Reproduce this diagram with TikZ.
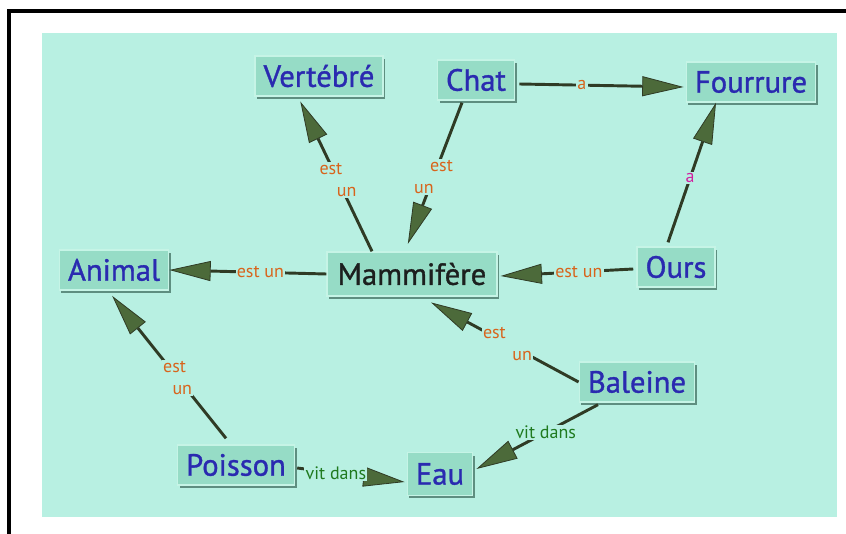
\documentclass[tikz,border=0pt]{standalone}
\usepackage{fontspec}
\setmainfont{PT Sans}
\newfontfamily\conceptfont[FakeBold=1.1]{PT Sans}
\usetikzlibrary{arrows.meta,shadows}

\definecolor{panel}{HTML}{B8F0E2}
\definecolor{boxfill}{HTML}{96DCC6}
\definecolor{boxshadow}{HTML}{5E8E80}
\definecolor{boxedge}{HTML}{C6F4E6}
\definecolor{nodeblue}{HTML}{2A2AB0}
\definecolor{nodedark}{HTML}{1C1F1E}
\definecolor{lblorange}{HTML}{D8641C}
\definecolor{lblmagenta}{HTML}{D020A0}
\definecolor{lblgreen}{HTML}{1F7A1F}
\definecolor{edgecol}{HTML}{2F3B25}
\definecolor{arrowfill}{HTML}{4C6A3A}

\tikzset{
  concept/.style={draw=boxedge, line width=1pt, fill=boxfill,
    drop shadow={shadow xshift=1.6pt, shadow yshift=-2.2pt, fill=boxshadow, opacity=1},
    text=nodeblue, font=\conceptfont\fontsize{23}{26}\selectfont,
    inner xsep=6.5pt, minimum height=30pt},
  link/.style={draw=edgecol, line width=2.2pt,
    -{Triangle[length=31pt,width=15pt,fill=arrowfill,line width=0.6pt]}},
  lbl/.style={fill=panel, inner sep=1pt, text=lblorange,
    font=\fontsize{13.5}{16.5}\selectfont},
  lbltwo/.style={lbl, align=left},
}

\begin{document}
\begin{tikzpicture}[x=0.75pt,y=-0.75pt]
  \useasboundingbox (0,0) rectangle (846,534);
  % outer frame and background panel
  \draw[line width=2.6pt] (9,560) -- (9,11) -- (880,11);
  \fill[panel] (42,33) rectangle (837,517);

  % concepts
  \node[concept] (vert) at (319,76) {Vertébré};
  \node[concept] (chat) at (476,80) {Chat};
  \node[concept] (four) at (751,82) {Fourrure};
  \node[concept] (anim) at (114,270) {Animal};
  \node[concept, text=nodedark, minimum height=33pt, inner xsep=8pt] (mam) at (412,274) {Mammifère};
  \node[concept] (ours) at (676,267) {Ours};
  \node[concept] (bal) at (637,382) {Baleine};
  \node[concept] (pois) at (236,465) {Poisson};
  \node[concept, minimum height=32pt] (eau) at (440,474) {Eau};

  % relations
  \draw[link, shorten >=4pt] ([shift={(-40,0)}]mam.north) --
    node[lbltwo, pos=0.46] {est\\\hspace*{13pt}un} ([shift={(-21,0)}]vert.south);
  \draw[link, shorten >=6pt] ([shift={(-14,2)}]chat.south) --
    node[lbltwo, pos=0.5] {\hspace*{12pt}est\\un} ([shift={(-7,0)}]mam.north);
  \draw[link] ([shift={(4,4)}]chat.east) --
    node[lbl, pos=0.38] {a} ([shift={(-2,5)}]four.west);
  \draw[link] ([shift={(-8,-4)}]ours.north) --
    node[lbl, text=lblmagenta, pos=0.46] {a} ([shift={(-35,0)}]four.south);
  \draw[link] (mam.west) --
    node[lbl, pos=0.42] {est un} (anim.east);
  \draw[link] ([shift={(-3,2)}]ours.west) --
    node[lbl, pos=0.41] {est un} ([shift={(3,2)}]mam.east);
  \draw[link, shorten >=6pt] (bal.west) --
    node[lbltwo, pos=0.46] {est\\\hspace*{22pt}un} ([shift={(12,2)}]mam.south);
  \draw[link, shorten >=5pt] ([shift={(-10,-6)}]pois.north) --
    node[lbltwo, pos=0.41] {est\\\hspace*{7pt}un} ([shift={(-6,0)}]anim.south);
  \draw[link] ([shift={(2,3)}]pois.east) --
    node[lbl, text=lblgreen, pos=0.36] {vit dans} ([shift={(-2,8)}]eau.west);
  \draw[link] ([shift={(-39,2)}]bal.south) --
    node[lbl, text=lblgreen, pos=0.43] {vit dans} ([shift={(3,-5)}]eau.east);
\end{tikzpicture}
\end{document}
